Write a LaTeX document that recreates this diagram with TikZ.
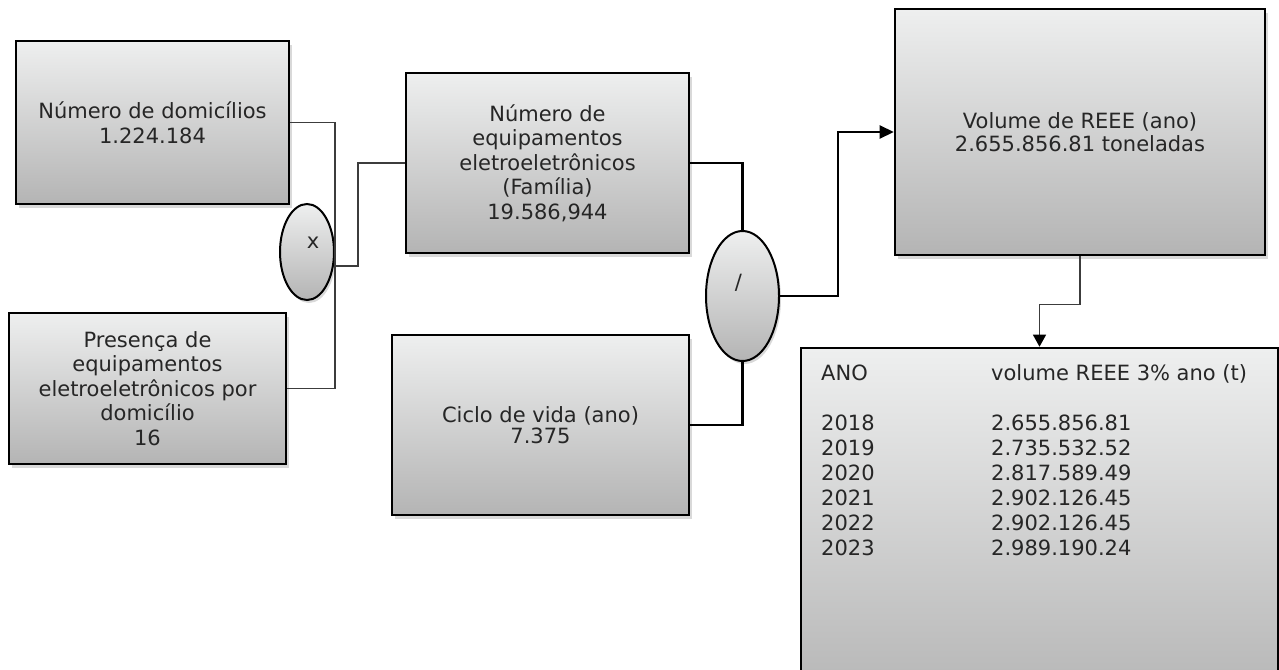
\documentclass[tikz,border=0pt]{standalone}
\usepackage{fontspec}
\setmainfont{DejaVu Sans}
\usepackage{tikz}
\usetikzlibrary{positioning,calc,shapes.geometric,shadows,arrows.meta}
\definecolor{boxtop}{RGB}{238,239,239}
\definecolor{boxbot}{RGB}{180,180,180}
\definecolor{linkgray}{RGB}{60,60,60}

\begin{document}
\begin{tikzpicture}[x=1pt, y=-1pt,
  box/.style={draw, line width=2.6pt, top color=boxtop, bottom color=boxbot, align=center, inner sep=0pt, font=\fontsize{21}{24.5}\selectfont, text=black!85, drop shadow={shadow xshift=3pt, shadow yshift=-4pt, opacity=0.3}},
  op/.style={ellipse, draw, line width=2pt, top color=boxtop, bottom color=boxbot, inner sep=0pt, drop shadow={shadow xshift=2pt, shadow yshift=-3pt, opacity=0.3}},
  every label/.style={font=\fontsize{21}{24}\selectfont, inner sep=0pt, text=black!85},
  link/.style={draw=linkgray, line width=1.3pt},
  flow/.style={draw=black, line width=2.5pt}]
\useasboundingbox (0,0) rectangle (1279,669);
% inputs of the product
\node[box, minimum width=273pt, minimum height=163pt] (dom) at (152.5,122.5) {Número de domicílios\\ 1.224.184};
\node[box, minimum width=277pt, minimum height=151pt] (pres) at (147.5,388.5) {Presença de\\ equipamentos\\ eletroeletrônicos por\\ domicílio\\ 16};
\node[op, minimum width=54pt, minimum height=96pt, label={[shift={(6,-9)}]center:x}] (mult) at (307,252) {};
% family total and life cycle
\node[box, minimum width=283pt, minimum height=180pt] (equip) at (547.5,163) {Número de\\ equipamentos\\ eletroeletrônicos\\ (Família)\\ 19.586,944};
\node[box, minimum width=297pt, minimum height=180pt, font=\fontsize{21}{21}\selectfont] (ciclo) at (540.5,425) {Ciclo de vida (ano)\\ 7.375};
\node[op, minimum width=73pt, minimum height=130pt, label={[shift={(-4,-13)}]center:/}] (div) at (742.5,296) {};
% results
\node[box, minimum width=370pt, minimum height=246pt, font=\fontsize{21}{23}\selectfont] (vol) at (1080,132) {Volume de REEE (ano)\\ 2.655.856.81 toneladas};
\node[box, minimum width=477pt, minimum height=360pt] (tab) at (1039.5,528) {};
\node[anchor=north west, inner sep=0pt, font=\fontsize{21}{25}\selectfont, text=black!85] (rows) at (821,363) {\begin{tabular}{@{}p{170pt}@{}l@{}}
ANO & volume REEE 3\% ano (t)\\
 & \\
2018 & 2.655.856.81\\
2019 & 2.735.532.52\\
2020 & 2.817.589.49\\
2021 & 2.902.126.45\\
2022 & 2.902.126.45\\
2023 & 2.989.190.24
\end{tabular}};
\draw[link] (dom.east) -| (mult.east) |- (pres.east);
\draw[link] ([yshift=-14pt]mult.east) -- ++(23,0) |- (equip.west);
\draw[flow] (equip.east) -| (div.north);
\draw[flow] (div.south) |- (ciclo.east);
\draw[flow, -{Triangle[length=14pt,width=13pt]}] (div.east) -- ++(58,0) |- (vol.west);
\draw[link, -{Triangle[length=12pt,width=13pt,color=black]}] (vol.south) -- ++(0,48) -| (tab.north);
\end{tikzpicture}
\end{document}
